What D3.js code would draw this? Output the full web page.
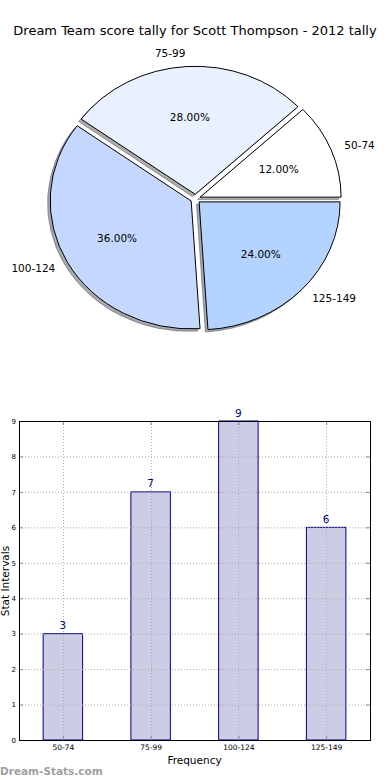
<!DOCTYPE html>
<html><head><meta charset="utf-8">
<script src="https://cdn.jsdelivr.net/npm/d3@7/dist/d3.min.js"></script>
<style>body{margin:0;background:#fff}svg{display:block}text{font-family:"DejaVu Sans",sans-serif}</style>
</head><body>
<script>
const title = "Dream Team score tally for Scott Thompson - 2012 tally";
const categories = ["50-74", "75-99", "100-124", "125-149"];
const counts = [3, 7, 9, 6];
const pieColors = ["#ffffff", "#e9f0ff", "#c4d7ff", "#b4d4ff"];
const yTicks = [0,1,2,3,4,5,6,7,8,9];
const xLabel = "Frequency";
const yLabel = "Stat Intervals";
const watermark = "Dream-Stats.com";

const W = 390, H = 780;
const svg = d3.select("body").append("svg").attr("width", W).attr("height", H);

svg.append("text").attr("x", 195).attr("y", 35).attr("text-anchor", "middle")
  .style("font-size", "13px").text(title);

// ---------- PIE ----------
const cx = 195.5, cy = 198.8, rx = 141, ry = 128, explode = 0.035;
const total = d3.sum(counts);
const pie = d3.pie().sort(null).startAngle(Math.PI / 2).endAngle(Math.PI / 2 - 2 * Math.PI);
const arcs = pie(counts);
const arcGen = d3.arc().innerRadius(0).outerRadius(1);
const g = svg.append("g");
function shade(c) { const r = d3.rgb(c); return d3.rgb(r.r * 0.3, r.g * 0.3, r.b * 0.3).toString(); }
arcs.forEach((a, i) => {
  const mid = (a.startAngle + a.endAngle) / 2;
  const ux = Math.sin(mid), uy = -Math.cos(mid);
  const ox = cx + explode * rx * ux, oy = cy + explode * ry * uy;
  g.append("path").attr("d", arcGen(a))
    .attr("transform", `translate(${ox - 2.6},${oy + 2.4}) scale(${rx},${ry})`)
    .attr("fill", shade(pieColors[i])).attr("fill-opacity", 0.45)
    .attr("stroke", shade(pieColors[i])).attr("stroke-opacity", 0.45)
    .attr("vector-effect", "non-scaling-stroke").attr("stroke-width", 1);
});
arcs.forEach((a, i) => {
  const mid = (a.startAngle + a.endAngle) / 2;
  const ux = Math.sin(mid), uy = -Math.cos(mid);
  const ox = cx + explode * rx * ux, oy = cy + explode * ry * uy;
  g.append("path").attr("d", arcGen(a))
    .attr("transform", `translate(${ox},${oy}) scale(${rx},${ry})`)
    .attr("fill", pieColors[i]).attr("stroke", "#000")
    .attr("vector-effect", "non-scaling-stroke").attr("stroke-width", 1);
  const lx = ox + 1.1 * rx * ux, ly = oy + 1.1 * ry * uy;
  g.append("text").attr("x", lx).attr("y", ly).attr("dy", "0.35em")
    .attr("text-anchor", ux > 0.01 ? "start" : (ux < -0.01 ? "end" : "middle"))
    .style("font-size", "10.5px").text(categories[i]);
  const px = ox + 0.6 * rx * ux, py = oy + 0.6 * ry * uy;
  g.append("text").attr("x", px).attr("y", py).attr("dy", "0.35em").attr("text-anchor", "middle")
    .style("font-size", "10.5px").text(d3.format(".2f")(counts[i] / total * 100) + "%");
});

// ---------- BAR ----------
const L = 19, R = 370, T = 421, B = 740;
const x = d3.scaleLinear().domain([-0.5, categories.length - 0.5]).range([L, R]);
const y = d3.scaleLinear().domain([0, 9]).range([B, T]);
const bw = 0.45;
const bg = svg.append("g");
bg.selectAll("rect.bar").data(counts).join("rect").attr("class", "bar")
  .attr("x", (d, i) => x(i - bw / 2)).attr("width", (d, i) => x(i + bw / 2) - x(i - bw / 2))
  .attr("y", d => y(d)).attr("height", d => y(0) - y(d))
  .attr("fill", "#ccccE5").attr("stroke", "#00008b").attr("stroke-width", 1);
bg.selectAll("line.hg").data(yTicks).join("line").attr("class", "hg")
  .attr("x1", L).attr("x2", R).attr("y1", d => y(d) + 0.5).attr("y2", d => y(d) + 0.5)
  .attr("stroke", "#aaa").attr("stroke-dasharray", "1,2");
bg.selectAll("line.vg").data(categories).join("line").attr("class", "vg")
  .attr("x1", (d, i) => Math.round(x(i)) + 0.5).attr("x2", (d, i) => Math.round(x(i)) + 0.5)
  .attr("y1", T).attr("y2", B).attr("stroke", "#aaa").attr("stroke-dasharray", "1,2");
const yAxisL = d3.axisLeft(y).tickValues(yTicks).tickSize(-4).tickPadding(3);
const yAxisR = d3.axisRight(y).tickValues(yTicks).tickSize(-4).tickFormat("");
const xAxisB = d3.axisBottom(x).tickValues(d3.range(categories.length)).tickSize(-4).tickPadding(5)
  .tickFormat(i => categories[i]);
const xAxisT = d3.axisTop(x).tickValues(d3.range(categories.length)).tickSize(-4).tickFormat("");
const ya = bg.append("g").attr("transform", `translate(${L},0)`).call(yAxisL);
const yr = bg.append("g").attr("transform", `translate(${R},0)`).call(yAxisR);
const xa = bg.append("g").attr("transform", `translate(0,${B})`).call(xAxisB);
const xt = bg.append("g").attr("transform", `translate(0,${T})`).call(xAxisT);
[ya, yr, xa, xt].forEach(a => { a.select(".domain").remove(); a.selectAll("line").attr("stroke", "#888"); });
ya.selectAll("text").style("font-size", "7px").style("font-family", "DejaVu Sans").attr("fill", "#000");
xa.selectAll("text").style("font-size", "7.5px").style("font-family", "DejaVu Sans").attr("fill", "#000");
bg.append("rect").attr("x", L + 0.5).attr("y", T + 0.5).attr("width", R - L).attr("height", B - T)
  .attr("fill", "none").attr("stroke", "#000").attr("stroke-width", 1);
bg.selectAll("text.val").data(counts).join("text").attr("class", "val")
  .attr("x", (d, i) => x(i)).attr("y", d => y(d) - 4.5).attr("text-anchor", "middle")
  .attr("fill", "#00008b").style("font-size", "10.5px").text(d => d);
svg.append("text").attr("x", (L + R) / 2).attr("y", 764).attr("text-anchor", "middle")
  .style("font-size", "10.5px").text(xLabel);
svg.append("text").attr("transform", `translate(8.5,581) rotate(-90)`).attr("text-anchor", "middle")
  .style("font-size", "10.5px").text(yLabel);
svg.append("text").attr("x", 0).attr("y", 775).attr("fill", "#a0a0a0")
  .style("font-family", "'DejaVu Sans', sans-serif").style("font-weight", "bold").style("font-size", "10.5px")
  .text(watermark);
</script>
</body></html>
